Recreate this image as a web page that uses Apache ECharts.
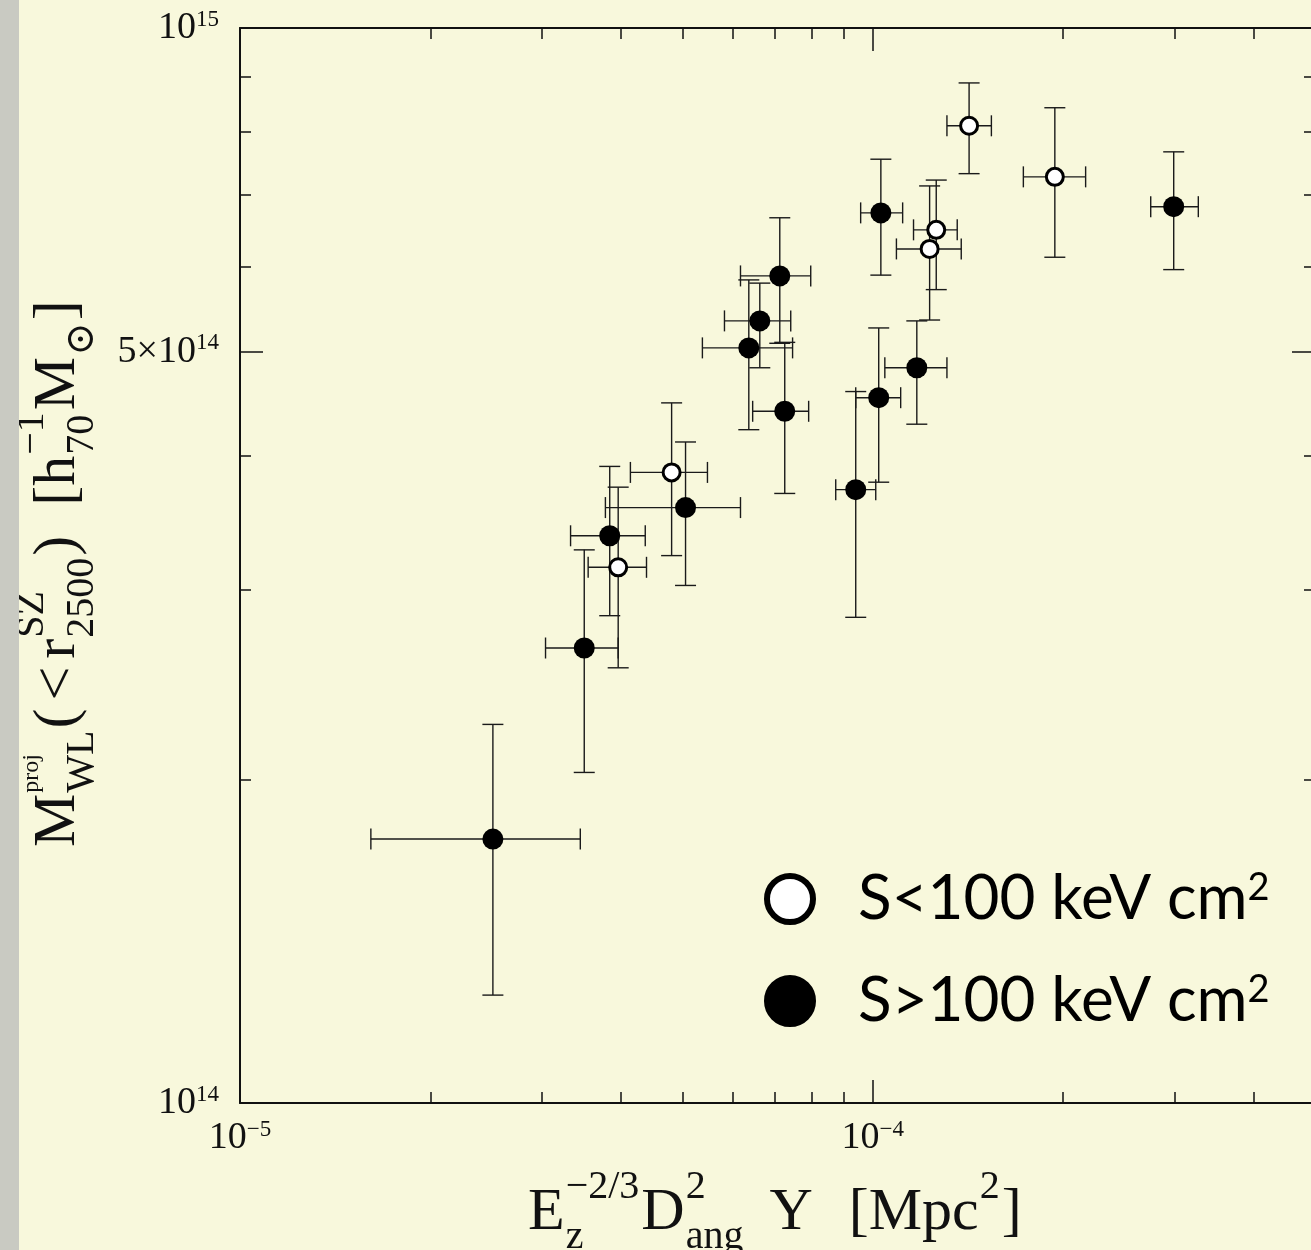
<!DOCTYPE html>
<html>
<head>
<meta charset="utf-8">
<script src="https://cdn.jsdelivr.net/npm/echarts@6/dist/echarts.min.js"></script>
<style>
  html, body { margin: 0; padding: 0; overflow: hidden; background: #c9cac2; }
  #chart { position: absolute; left: 19px; top: 0; width: 1320px; height: 1250px; background: #f8f8dc; }
</style>
</head>
<body>
<div id="chart"></div>
<script>
// ---- data: open circles, S < 100 keV cm^2 ----
var openX   = [3.96e-5, 4.81e-5, 1.23e-4, 1.26e-4, 1.42e-4, 1.94e-4];
var openXlo = [3.55e-5, 4.14e-5, 1.09e-4, 1.16e-4, 1.31e-4, 1.73e-4];
var openXhi = [4.39e-5, 5.48e-5, 1.38e-4, 1.36e-4, 1.54e-4, 2.17e-4];
var openY   = [3.15e14, 3.86e14, 6.23e14, 6.49e14, 8.11e14, 7.27e14];
var openYlo = [2.54e14, 3.23e14, 5.35e14, 5.71e14, 7.32e14, 6.12e14];
var openYhi = [3.74e14, 4.48e14, 7.13e14, 7.22e14, 8.89e14, 8.43e14];

// ---- data: filled circles, S > 100 keV cm^2 ----
var fillX   = [2.51e-5, 3.50e-5, 3.84e-5, 5.06e-5, 6.37e-5, 6.63e-5, 7.13e-5, 7.26e-5, 9.40e-5, 1.022e-4, 1.03e-4, 1.174e-4, 2.99e-4];
var fillXlo = [1.61e-5, 3.04e-5, 3.33e-5, 3.78e-5, 5.38e-5, 5.83e-5, 6.18e-5, 6.46e-5, 8.74e-5, 9.40e-5, 9.57e-5, 1.045e-4, 2.75e-4];
var fillXhi = [3.45e-5, 3.96e-5, 4.37e-5, 6.18e-5, 7.47e-5, 7.42e-5, 7.98e-5, 7.92e-5, 1.011e-4, 1.107e-4, 1.115e-4, 1.31e-4, 3.27e-4];
var fillY   = [1.76e14, 2.65e14, 3.37e14, 3.58e14, 5.04e14, 5.34e14, 5.88e14, 4.40e14, 3.72e14, 4.53e14, 6.73e14, 4.83e14, 6.82e14];
var fillYlo = [1.26e14, 2.03e14, 2.84e14, 3.03e14, 4.23e14, 4.83e14, 5.09e14, 3.69e14, 2.83e14, 3.78e14, 5.89e14, 4.28e14, 5.96e14];
var fillYhi = [2.25e14, 3.27e14, 3.91e14, 4.12e14, 5.83e14, 5.79e14, 6.66e14, 5.10e14, 4.59e14, 5.26e14, 7.55e14, 5.34e14, 7.67e14];

// ---- axes ----
var xMin = 1e-5, xMax = 5e-4;
var yMin = 1e14, yMax = 1e15;
var xMinorTicks = [2e-5, 3e-5, 4e-5, 5e-5, 6e-5, 7e-5, 8e-5, 9e-5, 2e-4, 3e-4, 4e-4];
var xMajorTicks = [1e-4];
var xTickLabels = [1e-5, 1e-4];
var yMinorTicks = [2e14, 3e14, 4e14, 6e14, 7e14, 8e14, 9e14];
var yMajorTicks = [5e14];
var yTickLabels = [1e14, 5e14, 1e15];

var legendNames = ['S<100 keV cm', 'S>100 keV cm'];

// axis titles, as pieces (main text, or a stacked sup/sub pair)
var yTitleParts = [{m: 'M'}, {sup: 'proj', sub: 'WL', supSize: 24}, {m: '('}, {gap: 8}, {m: '<'}, {gap: 8},
  {m: 'r'}, {sup: 'SZ', sub: '2500'}, {m: ')'}, {gap: 30}, {m: '['}, {m: 'h'}, {sup: '−1', sub: '70'},
  {m: 'M'}, {sub: '⊙'}, {m: ']'}];
var xTitleParts = [{m: 'E'}, {sup: '−2/3', sub: 'z'}, {m: 'D'}, {sup: '2', sub: 'ang'}, {gap: 24}, {m: 'Y'},
  {gap: 36}, {m: '['}, {m: 'Mpc'}, {sup: '2'}, {m: ']'}];

var SERIF = '"Liberation Serif", "DejaVu Serif", serif';
var INK = '#111';

// lay out math-like title pieces with measured widths
var mctx = document.createElement('canvas').getContext('2d');
function textW(t, size) {
  mctx.font = size + 'px ' + SERIF;
  return mctx.measureText(t).width;
}
function mathPieces(parts, big, small, supDy, subDy) {
  var out = [], cur = 0;
  parts.forEach(function (p) {
    if (p.gap) { cur += p.gap; return; }
    if (p.m) {
      out.push({type: 'text', x: cur, y: 0, style: {text: p.m, font: big + 'px ' + SERIF, fill: INK, textAlign: 'left', textVerticalAlign: 'middle'}});
      cur += textW(p.m, big);
      return;
    }
    var w = 0;
    if (p.sup) {
      var ss = p.supSize || small;
      out.push({type: 'text', x: cur + 1, y: supDy, style: {text: p.sup, font: ss + 'px ' + SERIF, fill: INK, textAlign: 'left', textVerticalAlign: 'middle'}});
      w = Math.max(w, textW(p.sup, ss));
    }
    if (p.sub) {
      out.push({type: 'text', x: cur + 1, y: subDy, style: {text: p.sub, font: small + 'px ' + SERIF, fill: INK, textAlign: 'left', textVerticalAlign: 'middle'}});
      w = Math.max(w, textW(p.sub, small));
    }
    cur += w + 3;
  });
  return out;
}

function tickLabel(v) {
  var e = Math.floor(Math.log10(v) + 1e-6);
  var m = Math.round(v / Math.pow(10, e));
  var es = e < 0 ? '−' + (-e) : '' + e;
  return (m === 1 ? '{b|10}' : '{b|' + m + '×10}') + '{s|' + es + '}';
}
var labelRich = {
  b: {fontFamily: SERIF, fontSize: 38, color: INK, lineHeight: 40},
  s: {fontFamily: SERIF, fontSize: 23, color: INK, verticalAlign: 'top', lineHeight: 26}
};

function axis(dim, pos, ticks, len, withLine, labels) {
  var lo = dim === 'x' ? xMin : yMin, hi = dim === 'x' ? xMax : yMax;
  var a = {
    type: 'log', logBase: 10, position: pos, gridIndex: 0, min: lo, max: hi,
    splitLine: {show: false}, minorTick: {show: false},
    axisLine: {show: withLine, onZero: false, lineStyle: {color: INK, width: 2}},
    axisTick: {show: true, inside: true, length: len, customValues: ticks, lineStyle: {color: INK, width: 1.5}},
    axisLabel: {show: false}
  };
  if (labels) {
    // nudge end values inside the extent so float round-off does not drop them
    var vals = labels.map(function (v) { return v >= hi ? v * (1 - 1e-9) : (v <= lo ? v * (1 + 1e-9) : v); });
    a.axisLabel = {show: true, customValues: vals, margin: dim === 'x' ? 15 : 21,
      formatter: tickLabel, rich: labelRich};
  }
  return a;
}

function errData(X, Y, xl, xh, yl, yh) {
  return X.map(function (x, i) { return [x, Y[i], xl[i], xh[i], yl[i], yh[i]]; });
}
function renderErr(params, api) {
  var x = api.value(0), y = api.value(1);
  var p = api.coord([x, y]);
  var l = api.coord([api.value(2), y])[0], r = api.coord([api.value(3), y])[0];
  var b = api.coord([x, api.value(4)])[1], t = api.coord([x, api.value(5)])[1];
  var c = 10.5;
  var st = {stroke: '#1a1a1a', lineWidth: 1.4};
  function ln(x1, y1, x2, y2) { return {type: 'line', shape: {x1: x1, y1: y1, x2: x2, y2: y2}, style: st}; }
  return {type: 'group', children: [
    ln(l, p[1], r, p[1]), ln(p[0], b, p[0], t),
    ln(l, p[1] - c, l, p[1] + c), ln(r, p[1] - c, r, p[1] + c),
    ln(p[0] - c, b, p[0] + c, b), ln(p[0] - c, t, p[0] + c, t)
  ]};
}

var chart = echarts.init(document.getElementById('chart'), null, {renderer: 'canvas'});

var option = {
  animation: false,
  backgroundColor: '#f8f8dc',
  grid: {left: 221, top: 28, width: 1075, height: 1075, containLabel: false, outerBoundsMode: 'none'},
  xAxis: [
    axis('x', 'bottom', xMinorTicks, 11, true, null),
    axis('x', 'bottom', xMajorTicks, 23, false, xTickLabels),
    axis('x', 'top', xMinorTicks, 11, true, null),
    axis('x', 'top', xMajorTicks, 23, false, null)
  ],
  yAxis: [
    axis('y', 'left', yMinorTicks, 11, true, null),
    axis('y', 'left', yMajorTicks, 23, false, yTickLabels),
    axis('y', 'right', yMinorTicks, 11, true, null),
    axis('y', 'right', yMajorTicks, 23, false, null)
  ],
  legend: {
    data: legendNames, orient: 'vertical', left: 740, top: 863,
    itemWidth: 46, itemHeight: 46, itemGap: 40, icon: 'circle',
    itemStyle: {borderWidth: 6, borderColor: '#000'},
    selectedMode: false,
    formatter: function (name) { return '{t|' + name + '}{s|2}'; },
    textStyle: {
      rich: {
        t: {fontFamily: 'Lato', fontSize: 62, color: '#000', lineHeight: 60, padding: [0, 0, 0, 40]},
        s: {fontFamily: 'Lato', fontSize: 38, color: '#000', lineHeight: 46, verticalAlign: 'top'}
      }
    }
  },
  graphic: [
    {type: 'group', x: 509, y: 1213, silent: true,
      children: mathPieces(xTitleParts, 60, 40, -26, 24)},
    {type: 'group', x: 39, y: 847, rotation: Math.PI / 2, silent: true,
      children: mathPieces(yTitleParts, 60, 40, -26, 24)}
  ],
  series: [
    {name: 'errOpen', type: 'custom', renderItem: renderErr, silent: true, z: 1,
      encode: {x: 0, y: 1}, data: errData(openX, openY, openXlo, openXhi, openYlo, openYhi)},
    {name: 'errFill', type: 'custom', renderItem: renderErr, silent: true, z: 1,
      encode: {x: 0, y: 1}, data: errData(fillX, fillY, fillXlo, fillXhi, fillYlo, fillYhi)},
    {name: legendNames[0], type: 'scatter', symbol: 'circle', symbolSize: 17, z: 3, silent: true,
      itemStyle: {color: '#fff', borderColor: '#000', borderWidth: 3, opacity: 1},
      data: openX.map(function (x, i) { return [x, openY[i]]; })},
    {name: legendNames[1], type: 'scatter', symbol: 'circle', symbolSize: 21, z: 3, silent: true,
      itemStyle: {color: '#000', opacity: 1},
      data: fillX.map(function (x, i) { return [x, fillY[i]]; })}
  ]
};

chart.setOption(option);
</script>
</body>
</html>
